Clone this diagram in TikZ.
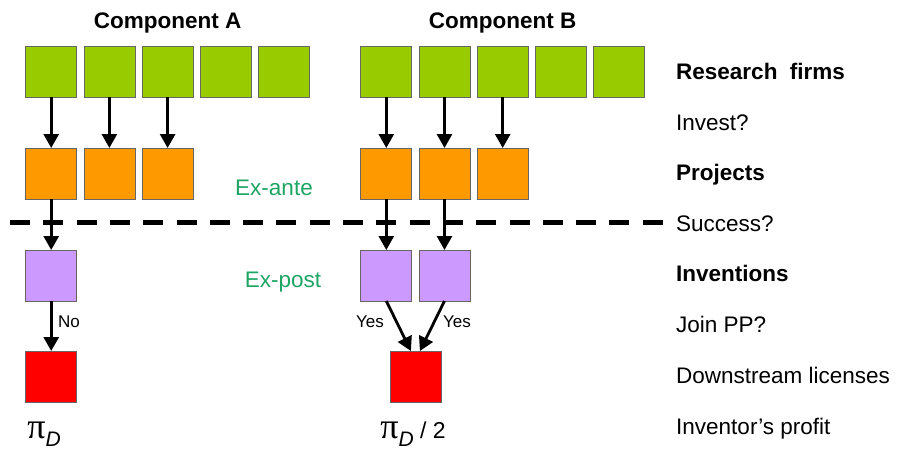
\documentclass[tikz,border=0pt]{standalone}
\usepackage{fontspec}
\setmainfont{Liberation Sans}
\newfontfamily\pifont{Liberation Serif}
\usetikzlibrary{arrows.meta}
\definecolor{cgreen}{RGB}{153,204,0}
\definecolor{corange}{RGB}{255,153,0}
\definecolor{cpurple}{RGB}{204,153,255}
\definecolor{cred}{RGB}{255,0,0}
\definecolor{exgreen}{RGB}{30,165,100}
\begin{document}
\begin{tikzpicture}[x=1pt,y=-1pt,
  box/.style={draw=black!60, line width=0.8pt, minimum width=51pt, minimum height=51pt, inner sep=0pt, outer sep=0pt},
  gbox/.style={box, fill=cgreen},
  obox/.style={box, fill=corange},
  pbox/.style={box, fill=cpurple},
  rbox/.style={box, fill=cred},
  arr/.style={line width=2.8pt, -{Triangle[width=15pt,length=14pt]}},
  lbl/.style={font=\fontsize{22.5}{26}\selectfont, anchor=base west, inner sep=0pt},
  blbl/.style={lbl, font=\fontsize{22.5}{26}\selectfont\bfseries},
  head/.style={font=\fontsize{22.5}{26}\selectfont\bfseries, anchor=base, inner sep=0pt},
  small/.style={font=\fontsize{17}{20}\selectfont, inner sep=0pt},
  phase/.style={font=\fontsize{22.5}{26}\selectfont, text=exgreen, inner sep=0pt},
  profit/.style={inner sep=0pt, anchor=base}
]
\useasboundingbox (0,0) rectangle (898,450);

% headers
\node[head] (hA) at (167.6,28) {Component A};
\node[head] (hB) at (502.7,28) {Component B};

% research firms
\foreach \i/\x in {1/51.2,2/109.4,3/167.6,4/225.8,5/284}
  \node[gbox] (gA\i) at (\x,71.5) {};
\foreach \i/\x in {1/386.3,2/444.5,3/502.7,4/560.9,5/619.1}
  \node[gbox] (gB\i) at (\x,71.5) {};

% projects
\foreach \i/\x in {1/51.2,2/109.4,3/167.6}
  \node[obox] (oA\i) at (\x,173.5) {};
\foreach \i/\x in {1/386.3,2/444.5,3/502.7}
  \node[obox] (oB\i) at (\x,173.5) {};

% inventions
\node[pbox] (pA1) at (51.2,275.5) {};
\node[pbox] (pB1) at (386.3,275.5) {};
\node[pbox] (pB2) at (444.5,275.5) {};

% downstream
\node[rbox] (rA) at (51.2,376.5) {};
\node[rbox] (rB) at (415.4,376.5) {};

% dashed line
\coordinate (dl) at (10,222);
\coordinate (dr) at (666,222);
\draw[line width=5pt, dash pattern=on 20pt off 13.3pt] (dl) -- (dr);

% arrows
\foreach \i in {1,2,3} {
  \draw[arr] (gA\i.south) -- (oA\i.north);
  \draw[arr] (gB\i.south) -- (oB\i.north);
}
\draw[arr] (oA1.south) -- (pA1.north);
\draw[arr] (oB1.south) -- (pB1.north);
\draw[arr] (oB2.south) -- (pB2.north);
\draw[arr] (pA1.south) -- (rA.north);
\draw[arr] (pB1.south) -- ([xshift=-4.5pt]rB.north);
\draw[arr] (pB2.south) -- ([xshift=4.5pt]rB.north);

% small labels
\node[small] (no) at (69,322) {No};
\node[small] (yes1) at (370,322) {Yes};
\node[small] (yes2) at (457,322) {Yes};

% phases
\node[phase] (exa) at (274,188) {Ex-ante};
\node[phase] (exp) at (283,282) {Ex-post};

% profits
\node[profit] (prA) at (44,438) {{\pifont\fontsize{36}{36}\selectfont π}\raisebox{-8pt}{\fontsize{21}{22}\selectfont\itshape D}};
\node[profit] (prB) at (413,438) {{\pifont\fontsize{36}{36}\selectfont π}\raisebox{-8pt}{\fontsize{21}{22}\selectfont\itshape D}\fontsize{23}{26}\selectfont\ / 2};

% right labels
\node[blbl] (l1) at (676,79.3) {Research\ \ firms};
\node[lbl] (l2) at (676,130) {Invest?};
\node[blbl] (l3) at (676,180.5) {Projects};
\node[lbl] (l4) at (676,231) {Success?};
\node[blbl] (l5) at (676,281.5) {Inventions};
\node[lbl] (l6) at (676,332) {Join PP?};
\node[lbl] (l7) at (676,383) {Downstream licenses};
\node[lbl] (l8) at (676,434) {Inventor’s profit};
\end{tikzpicture}
\end{document}
